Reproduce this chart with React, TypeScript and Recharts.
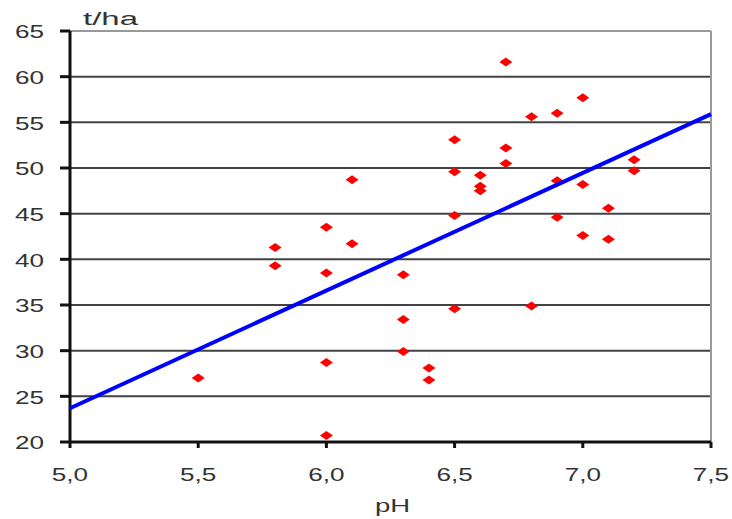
import React from 'react';
import { ScatterChart, Scatter, XAxis, YAxis, CartesianGrid, ReferenceLine } from 'recharts';

// pH vs yield (t/ha) observations
const phValues = [5.5, 5.8, 5.8, 6.0, 6.0, 6.0, 6.0, 6.1, 6.1, 6.3, 6.3, 6.3, 6.4, 6.4, 6.5, 6.5, 6.5, 6.5, 6.6, 6.6, 6.6, 6.7, 6.7, 6.7, 6.8, 6.8, 6.9, 6.9, 6.9, 7.0, 7.0, 7.0, 7.1, 7.1, 7.2, 7.2];
const yieldValues = [27.0, 41.3, 39.3, 43.5, 38.5, 28.7, 20.7, 48.7, 41.7, 38.3, 33.4, 29.9, 28.1, 26.8, 53.1, 49.6, 44.8, 34.6, 49.2, 48.0, 47.5, 61.6, 52.2, 50.5, 55.6, 34.9, 56.0, 48.6, 44.6, 57.7, 48.2, 42.6, 45.6, 42.2, 50.9, 49.7];

// linear trend end points
const trendPh = [5.0, 7.5];
const trendYield = [23.7, 55.9];

const xTicks = [5.0, 5.5, 6.0, 6.5, 7.0, 7.5];
const yTicks = [20, 25, 30, 35, 40, 45, 50, 55, 60, 65];

const points = phValues.map((x, i) => ({ x, y: yieldValues[i] }));
const trend = trendPh.map((x, i) => ({ x, y: trendYield[i] }));

const FONT = 'Liberation Sans, Arial, sans-serif';
const STRETCH = 1.45; // the original has wide, horizontally stretched lettering

const Diamond = (props: any) => {
  const { cx, cy } = props;
  if (cx == null || cy == null) return <g />;
  return <path d={`M${cx - 6.5},${cy} L${cx},${cy - 4.5} L${cx + 6.5},${cy} L${cx},${cy + 4.5} Z`} fill="#ff0000" />;
};

const XTick = (props: any) => {
  const { x, y, payload } = props;
  return (
    <g transform={`translate(${x},${y}) scale(${STRETCH},1)`}>
      <text textAnchor="middle" dy="0.71em" fill="#333" fontSize={18} fontFamily={FONT}>
        {Number(payload.value).toFixed(1).replace('.', ',')}
      </text>
    </g>
  );
};

const YTick = (props: any) => {
  const { x, y, payload } = props;
  return (
    <g transform={`translate(${x},${y}) scale(${STRETCH},1)`}>
      <text textAnchor="end" dy="0.4em" fill="#333" fontSize={18} fontFamily={FONT}>
        {payload.value}
      </text>
    </g>
  );
};

export default function App() {
  return (
    <div style={{ position: 'absolute', left: 0, top: 0, background: '#fff' }}>
      <ScatterChart width={732} height={519} margin={{ top: 31, right: 21, bottom: 0, left: 0 }}>
        <CartesianGrid vertical={false} stroke="#222" strokeWidth={2} strokeOpacity={0.85} />
        <XAxis
          type="number"
          dataKey="x"
          domain={[5, 7.5]}
          ticks={xTicks}
          height={77}
          stroke="#111"
          strokeWidth={3}
          tickSize={6}
          tickMargin={20}
          tick={<XTick />}
          label={{
            content: (p: any) => {
              const vb = p.viewBox || { x: 70, y: 442, width: 641, height: 77 };
              return (
                <g transform={`translate(${vb.x + vb.width / 2 + 2},${vb.y + vb.height - 7}) scale(${STRETCH},1)`}>
                  <text textAnchor="middle" fill="#333" fontSize={19} fontFamily={FONT}>
                    pH
                  </text>
                </g>
              );
            },
          }}
        />
        <YAxis
          type="number"
          dataKey="y"
          domain={[20, 65]}
          ticks={yTicks}
          width={70}
          stroke="#111"
          strokeWidth={3}
          tickSize={10}
          tickMargin={16}
          tick={<YTick />}
          label={{
            content: () => (
              <text x={83} y={25} fill="#333" fontSize={18} fontFamily={FONT} textLength={55} lengthAdjust="spacingAndGlyphs">
                t/ha
              </text>
            ),
          }}
        />
        <ReferenceLine y={65} stroke="#999" strokeWidth={2} />
        <ReferenceLine x={7.5} stroke="#999" strokeWidth={2} />
        <Scatter data={points} shape={<Diamond />} isAnimationActive={false} />
        <Scatter data={trend} line={{ stroke: '#0000ff', strokeWidth: 4 }} shape={() => <g />} isAnimationActive={false} />
      </ScatterChart>
    </div>
  );
}
